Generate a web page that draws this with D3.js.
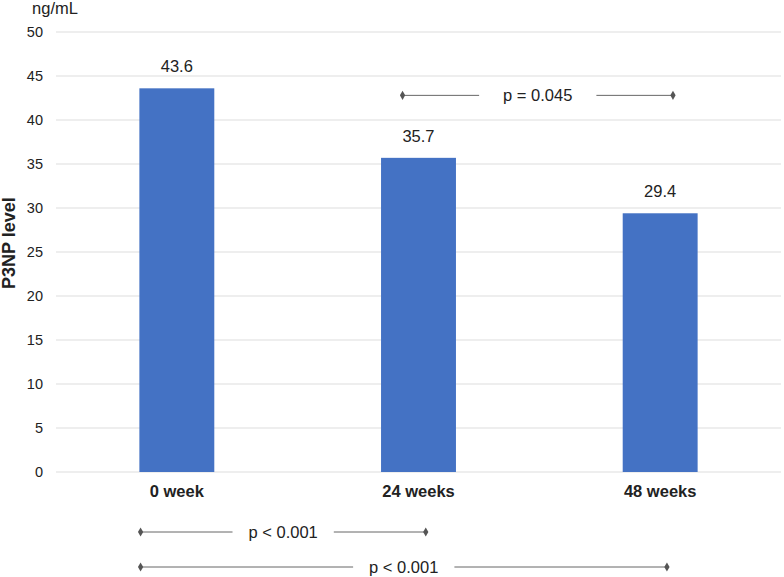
<!DOCTYPE html>
<html>
<head>
<meta charset="utf-8">
<script src="https://cdn.jsdelivr.net/npm/d3@7"></script>
<style>
  body { margin: 0; background: #fff; }
  text { font-family: "Liberation Sans", Arial, Helvetica, sans-serif; fill: #222; }
</style>
</head>
<body>
<div id="chart-area"></div>
<script>
// Data
var categories = ["0 week", "24 weeks", "48 weeks"];
var values = [43.6, 35.7, 29.4];
var yTicks = [0, 5, 10, 15, 20, 25, 30, 35, 40, 45, 50];

// p-value brackets, positions in category units (0 = left edge of first band)
var pLabels = ["p = 0.045", "p < 0.001", "p < 0.001"];
var pFrom = [1.434, 0.35, 0.35];
var pTo = [2.553, 1.53, 2.528];
var pGap = [24, 16, 16];

var margin = { left: 56, right: 3, top: 32, bottom: 105 },
    W = 784, H = 577,
    width = W - margin.left - margin.right,
    height = H - margin.top - margin.bottom;

var svg = d3.select("#chart-area").append("svg")
    .attr("width", W)
    .attr("height", H);

var g = svg.append("g")
    .attr("transform", "translate(" + margin.left + "," + margin.top + ")");

var x = d3.scaleBand().domain(categories).range([0, width]).padding(0);
var xPos = d3.scaleLinear().domain([0, categories.length]).range([0, width]);
var y = d3.scaleLinear().domain([0, 50]).range([height, 0]);

var barW = x.bandwidth() * 0.31;

// Gridlines
g.selectAll(".grid").data(yTicks).enter().append("line")
    .attr("x1", 0).attr("x2", width)
    .attr("y1", d => y(d)).attr("y2", d => y(d))
    .attr("stroke", "#dedede").attr("stroke-width", 1.2);

// Y axis tick labels
var yAxis = g.append("g").call(d3.axisLeft(y).tickValues(yTicks).tickSize(0).tickPadding(13));
yAxis.select(".domain").remove();
yAxis.selectAll("text")
    .style("font-size", "14.5px")
    .style("font-family", "'Liberation Sans', Arial, sans-serif")
    .attr("fill", "#222");

// Bars
g.selectAll(".bar").data(values).enter().append("rect")
    .attr("x", (d, i) => x(categories[i]) + x.bandwidth() / 2 - barW / 2)
    .attr("width", barW)
    .attr("y", d => y(d))
    .attr("height", d => height - y(d))
    .attr("fill", "#4472c4");

// Value labels
g.selectAll(".val").data(values).enter().append("text")
    .attr("x", (d, i) => x(categories[i]) + x.bandwidth() / 2)
    .attr("y", d => y(d) - 16)
    .attr("text-anchor", "middle")
    .style("font-size", "16.5px")
    .text(d => d.toFixed(1));

// X axis labels
var xAxis = g.append("g")
    .attr("transform", "translate(0," + height + ")")
    .call(d3.axisBottom(x).tickSize(0).tickPadding(13));
xAxis.select(".domain").remove();
xAxis.selectAll("text")
    .style("font-size", "16.5px")
    .style("font-weight", "bold")
    .style("font-family", "'Liberation Sans', Arial, sans-serif")
    .attr("fill", "#222");

// Unit label
svg.append("text")
    .attr("x", 55).attr("y", 14)
    .attr("text-anchor", "middle")
    .style("font-size", "16.5px")
    .text("ng/mL");

// Y axis title
svg.append("text")
    .attr("transform", "translate(" + 15 + "," + (margin.top + y(26)) + ") rotate(-90)")
    .attr("text-anchor", "middle")
    .style("font-size", "18px")
    .style("font-weight", "bold")
    .text("P3NP level");

// p-value brackets: first one sits inside the plot, others below the axis
var rowY = [y(42.8), height + 60, height + 95];

pLabels.forEach(function (lab, i) {
    var x1 = xPos(pFrom[i]), x2 = xPos(pTo[i]), yy = rowY[i], mid = (x1 + x2) / 2;
    var t = g.append("text")
        .attr("x", mid).attr("y", yy)
        .attr("dy", "0.35em")
        .attr("text-anchor", "middle")
        .style("font-size", "16.5px")
        .text(lab);
    var tw = t.node().getComputedTextLength();
    [[x1, mid - tw / 2 - pGap[i]], [mid + tw / 2 + pGap[i], x2]].forEach(function (s) {
        g.append("line")
            .attr("x1", s[0]).attr("x2", s[1])
            .attr("y1", yy).attr("y2", yy)
            .attr("stroke", "#666").attr("stroke-width", 1);
    });
    [x1, x2].forEach(function (px) {
        g.append("path")
            .attr("d", d3.symbol().type(d3.symbolDiamond).size(24)())
            .attr("transform", "translate(" + px + "," + yy + ")")
            .attr("fill", "#555");
    });
});
</script>
</body>
</html>
